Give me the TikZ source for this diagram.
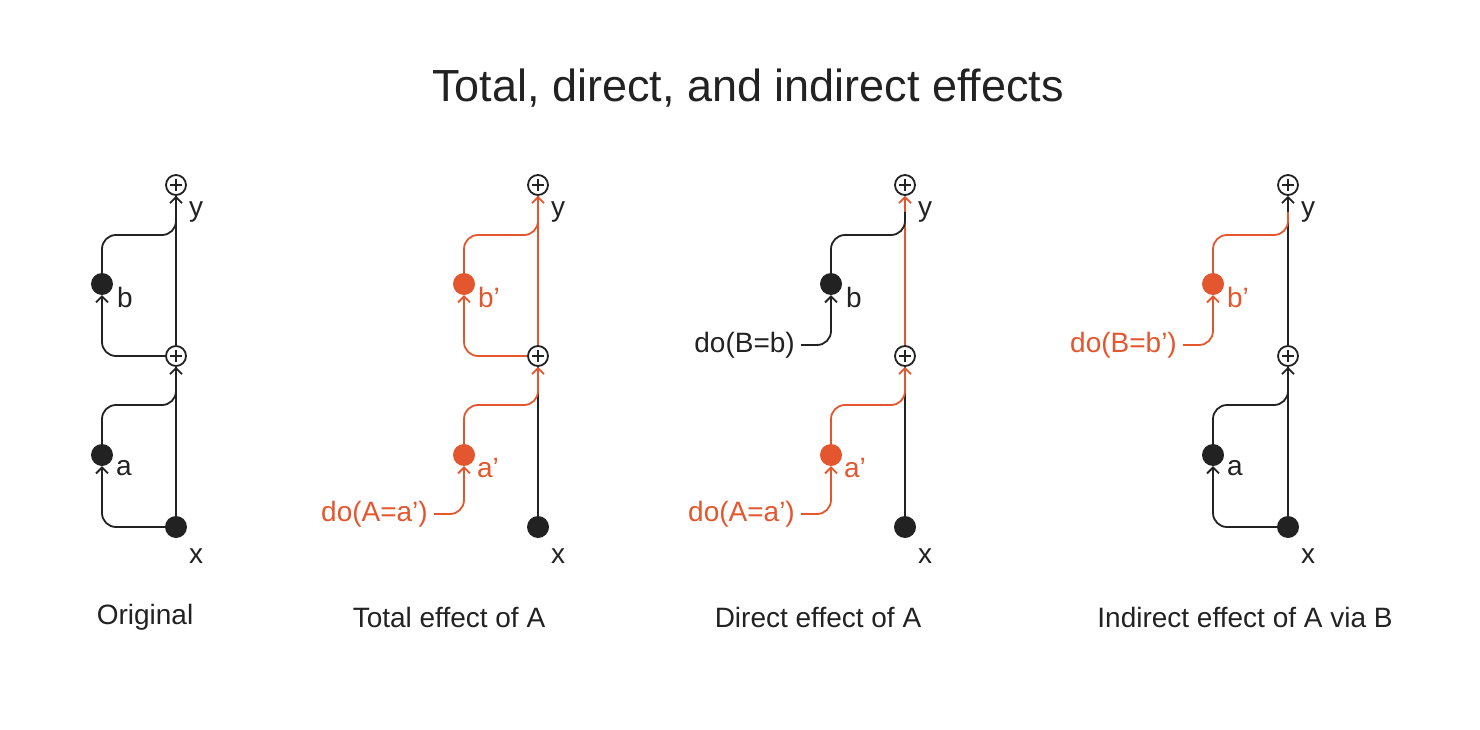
\documentclass[tikz,border=0pt]{standalone}
\usepackage{fontspec}
\setmainfont{Liberation Sans}
\usetikzlibrary{arrows.meta}
\definecolor{ink}{HTML}{222222}
\definecolor{org}{HTML}{E4572E}
\begin{document}
\begin{tikzpicture}[x=1pt,y=-1pt,
  dot/.style={circle,fill=#1,inner sep=0pt,minimum size=22pt},
  plus/.style={circle,draw=ink,line width=1.8pt,inner sep=0pt,minimum size=20pt,
    path picture={\draw[ink,line width=1.8pt] (path picture bounding box.center)+(-6pt,0)--+(6pt,0) (path picture bounding box.center)+(0,-6pt)--+(0,6pt);}},
  e/.style={draw=#1,line width=1.8pt,rounded corners=14pt},
  ar/.style={-{Straight Barb[length=6pt,width=12pt,line width=1.8pt]}},
  lab/.style={font=\fontsize{28}{30}\selectfont,text=#1,inner sep=0pt},
  capt/.style={font=\fontsize{28}{30}\selectfont,text=ink,inner sep=0pt}]
\useasboundingbox (0,0) rectangle (1480,730);
\node[font=\fontsize{45}{50}\selectfont,text=ink] (title) at (748,88) {Total, direct, and indirect effects};
% ---------- Panel 1
\def\X{176}\def\L{102}
\node[plus] (p1y) at (\X,185) {};
\node[plus] (p1m) at (\X,356) {};
\node[dot=ink] (p1x) at (\X,527) {};
\node[dot=ink] (p1a) at (\L,455) {};
\node[dot=ink] (p1b) at (\L,284) {};
\node[lab=ink] (p1yl) at (\X+20,212) {y};
\node[lab=ink] (p1xl) at (\X+20,556) {x};
\node[lab=ink] (p1al) at (\L+22,468) {a};
\node[lab=ink] (p1bl) at (\L+23,297) {b};
\draw[e=ink,ar] (p1x) -- (p1m);
\draw[e=ink,ar] (p1m) -- (p1y);
\draw[e=ink,ar] (p1x.west) -| (p1a.south);
\draw[e=ink] (p1a.north) |- (\X,405) -- (p1m.south);
\draw[e=ink,ar] (p1m.west) -| (p1b.south);
\draw[e=ink] (p1b.north) |- (\X,235) -- (p1y.south);
\node[capt] (p1c) at (145,617) {Original};
% ---------- Panel 2
\def\X{538}\def\L{464}
\node[plus] (p2y) at (\X,185) {};
\node[plus] (p2m) at (\X,356) {};
\node[dot=ink] (p2x) at (\X,527) {};
\node[dot=org] (p2a) at (\L,455) {};
\node[dot=org] (p2b) at (\L,284) {};
\node[lab=ink] (p2yl) at (\X+20,212) {y};
\node[lab=ink] (p2xl) at (\X+20,556) {x};
\node[lab=org] (p2al) at (\L+24,468) {a’};
\node[lab=org] (p2bl) at (\L+25,297) {b’};
\node[lab=org,anchor=east] (p2do) at (\L-36,514) {do(A=a’)};
\draw[e=ink] (p2x) -- (p2m.south);
\draw[e=org] (p2a.north) |- (\X,405) -- (\X,380);
\draw[e=org,ar] (\X,392) -- (p2m.south);
\draw[e=org,ar] (p2m) -- (p2y);
\draw[e=org,ar] (p2do.east)+(6pt,0) -| (p2a.south);
\draw[e=org,ar] (p2m.west) -| (p2b.south);
\draw[e=org] (p2b.north) |- (\X,235) -- (p2y.south);
\node[capt] (p2c) at (449,617) {Total effect of A};
% ---------- Panel 3
\def\X{905}\def\L{831}
\node[plus] (p3y) at (\X,185) {};
\node[plus] (p3m) at (\X,356) {};
\node[dot=ink] (p3x) at (\X,527) {};
\node[dot=org] (p3a) at (\L,455) {};
\node[dot=ink] (p3b) at (\L,284) {};
\node[lab=ink] (p3yl) at (\X+20,212) {y};
\node[lab=ink] (p3xl) at (\X+20,556) {x};
\node[lab=org] (p3al) at (\L+24,468) {a’};
\node[lab=ink] (p3bl) at (\L+23,297) {b};
\node[lab=org,anchor=east] (p3do) at (\L-36,514) {do(A=a’)};
\node[lab=ink,anchor=east] (p3dob) at (\L-36,345) {do(B=b)};
\draw[e=ink] (p3x) -- (p3m.south);
\draw[e=org] (p3a.north) |- (\X,405) -- (\X,380);
\draw[e=org,ar] (\X,392) -- (p3m.south);
\draw[e=org,ar] (p3m) -- (p3y);
\draw[e=org,ar] (p3do.east)+(6pt,0) -| (p3a.south);
\draw[e=ink,ar] (p3dob.east)+(6pt,0) -| (p3b.south);
\draw[e=ink] (p3b.north) |- (\X,235) -- (\X,212);
\node[capt] (p3c) at (818,617) {Direct effect of A};
% ---------- Panel 4
\def\X{1288}\def\L{1213}
\node[plus] (p4y) at (\X,185) {};
\node[plus] (p4m) at (\X,356) {};
\node[dot=ink] (p4x) at (\X,527) {};
\node[dot=ink] (p4a) at (\L,455) {};
\node[dot=org] (p4b) at (\L,284) {};
\node[lab=ink] (p4yl) at (\X+20,212) {y};
\node[lab=ink] (p4xl) at (\X+20,556) {x};
\node[lab=ink] (p4al) at (\L+22,468) {a};
\node[lab=org] (p4bl) at (\L+25,297) {b’};
\node[lab=org,anchor=east] (p4dob) at (\L-36,345) {do(B=b’)};
\draw[e=ink,ar] (p4x) -- (p4m);
\draw[e=ink,ar] (p4m) -- (p4y);
\draw[e=ink,ar] (p4x.west) -| (p4a.south);
\draw[e=ink] (p4a.north) |- (\X,405) -- (p4m.south);
\draw[e=org,ar] (p4dob.east)+(6pt,0) -| (p4b.south);
\draw[e=org] (p4b.north) |- (\X,235) -- (\X,212);
\node[capt] (p4c) at (1245,617) {Indirect effect of A via B};
\end{tikzpicture}
\end{document}
